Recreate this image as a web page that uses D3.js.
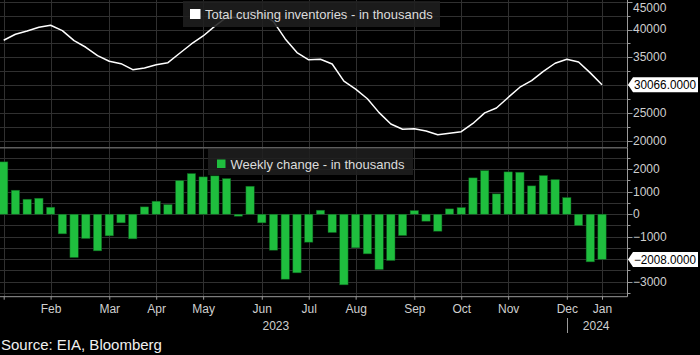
<!DOCTYPE html>
<html>
<head>
<meta charset="utf-8">
<script src="https://cdn.jsdelivr.net/npm/d3@7"></script>
<style>
  html, body { margin: 0; padding: 0; background: #000; }
  svg { display: block; font-family: "Liberation Sans", Arial, sans-serif; }
</style>
</head>
<body>
<svg id="chart" width="700" height="355"></svg>
<script>
// ---- Data (weekly, Jan 2023 – Jan 2024) ----
const inventory = [38062, 39141, 39735, 40400, 40760, 39789, 37990, 36803, 35291, 34284,
  33852, 32773, 33079, 33672, 34032, 35723, 37396, 38835, 40600, 42200,
  42100, 43200, 42850, 41410, 38300, 35850, 34550, 34650, 33800, 30720,
  29280, 27550, 25050, 23000, 22060, 22160, 21760, 21080, 21330, 21620,
  23100, 25000, 25880, 27780, 29620, 30800, 32480, 33930, 34650, 34150,
  32200, 30066];
const weeklyChange = [2326, 1067, 667, 711, 311, -874, -1926, -1081, -1630, -963,
  -385, -1096, 326, 578, 430, 1496, 1807, 1659, 1704, 1585,
  -89, 1244, -385, -1600, -2889, -2607, -1244, 178, -815, -3141,
  -1496, -1763, -2459, -2059, -948, 163, -311, -756, 237, 296,
  1615, 1941, 904, 1881, 1867, 1259, 1719, 1541, 741, -504,
  -2119, -2008];
const monthTickIndex = [0, 4, 9, 13, 17, 22, 26, 30, 35, 39, 43, 48, 51];
const monthLabels = ["", "Feb", "Mar", "Apr", "May", "Jun", "Jul", "Aug", "Sep", "Oct", "Nov", "Dec", "Jan"];
const yearLabels = ["2023", "2024"];
const yearLabelIndex = [23.2, 50.5];
const topTickLabels = [20000, 25000, 35000, 40000, 45000];
const bottomTickLabels = [-3000, -1000, 0, 1000, 2000];
const seriesNames = ["Total cushing inventories - in thousands", "Weekly change - in thousands"];
const sourceText = "Source: EIA, Bloomberg";

// ---- Layout ----
const svg = d3.select("#chart");
const W = 700, H = 355;
const plotL = 0, plotR = 627;
const topY0 = 0, topY1 = 147.7, botY0 = 147.7, botY1 = 296.7;
const green = "#1fbe3e";
const gridCol = "#303030";
const tickCol = "#cfcfcf";

svg.append("rect").attr("width", W).attr("height", H).attr("fill", "#000");

const x = d3.scaleLinear().domain([-0.315, 53.13]).range([plotL, plotR]);
const yTop = d3.scaleLinear().domain([18741, 45306]).range([topY1, topY0]);
const yBot = d3.scaleLinear().domain([-3667, 2956]).range([botY1, botY0]);

const defs = svg.append("defs");
defs.append("clipPath").attr("id", "clipTop").append("rect")
  .attr("x", plotL).attr("y", topY0).attr("width", plotR - plotL).attr("height", topY1 - topY0);
defs.append("clipPath").attr("id", "clipBot").append("rect")
  .attr("x", plotL).attr("y", botY0).attr("width", plotR - plotL).attr("height", botY1 - botY0);

// ---- Gridlines ----
const grid = svg.append("g");
const topGrid = d3.range(20000, 45001, 2500);
const botGrid = d3.range(-3500, 2501, 500);
grid.selectAll(".ht").data(topGrid).join("line")
  .attr("x1", plotL).attr("x2", plotR)
  .attr("y1", d => Math.round(yTop(d)) + 0.5).attr("y2", d => Math.round(yTop(d)) + 0.5)
  .attr("stroke", gridCol).attr("stroke-width", 1);
grid.selectAll(".hb").data(botGrid).join("line")
  .attr("x1", plotL).attr("x2", plotR)
  .attr("y1", d => Math.round(yBot(d)) + 0.5).attr("y2", d => Math.round(yBot(d)) + 0.5)
  .attr("stroke", gridCol).attr("stroke-width", 1);
grid.selectAll(".v").data(monthTickIndex).join("line")
  .attr("x1", d => Math.round(x(d)) + 0.5).attr("x2", d => Math.round(x(d)) + 0.5)
  .attr("y1", topY0).attr("y2", botY1)
  .attr("stroke", gridCol).attr("stroke-width", 1);

// ---- Bars ----
const bw = (x(1) - x(0)) * 0.71;
svg.append("g").attr("clip-path", "url(#clipBot)")
  .selectAll("rect").data(weeklyChange).join("rect")
  .attr("x", (d, i) => x(i) - bw / 2)
  .attr("width", bw)
  .attr("y", d => yBot(Math.max(0, d)))
  .attr("height", d => Math.max(0.8, Math.abs(yBot(d) - yBot(0))))
  .attr("fill", green)
  .attr("stroke", "#0c5a1c").attr("stroke-width", 0.5);

// ---- Line ----
svg.append("g").attr("clip-path", "url(#clipTop)")
  .append("path").datum(inventory)
  .attr("d", d3.line().x((d, i) => x(i)).y(d => yTop(d)))
  .attr("fill", "none").attr("stroke", "#ffffff").attr("stroke-width", 1.5)
  .attr("stroke-linejoin", "round");

// ---- Panel separators / axis lines ----
svg.append("line").attr("x1", plotL).attr("x2", plotR).attr("y1", topY1).attr("y2", topY1)
  .attr("stroke", "#5e5e5e").attr("stroke-width", 1.5);
svg.append("line").attr("x1", plotL).attr("x2", plotR + 0.5).attr("y1", botY1).attr("y2", botY1)
  .attr("stroke", "#9a9a9a").attr("stroke-width", 1);

// ---- Right axes ----
function rightAxis(scale, labels, minorStep, y0, y1, minY) {
  const g = svg.append("g").attr("transform", `translate(${plotR + 0.5},0)`);
  g.append("line").attr("x1", 0).attr("x2", 0).attr("y1", y0).attr("y2", y1)
    .attr("stroke", "#9a9a9a").attr("stroke-width", 1);
  const dom = scale.domain();
  const minors = d3.range(Math.ceil(dom[0] / minorStep) * minorStep, dom[1] + 1, minorStep);
  g.selectAll(".mt").data(minors).join("line")
    .attr("x1", 0).attr("x2", d => labels.includes(d) ? 5 : 3)
    .attr("y1", d => Math.round(scale(d)) + 0.5).attr("y2", d => Math.round(scale(d)) + 0.5)
    .attr("stroke", "#9a9a9a");
  const ax = d3.axisRight(scale).tickValues(labels).tickSize(0).tickPadding(6).tickFormat(d3.format("d"));
  const ag = svg.append("g").attr("transform", `translate(${plotR},0)`).call(ax);
  ag.select(".domain").remove();
  ag.selectAll("text")
    .attr("fill", tickCol).attr("font-size", "12px")
    .attr("font-family", "Liberation Sans, Arial, sans-serif");
  ag.selectAll(".tick").attr("transform", d => `translate(0,${Math.max(minY, scale(d))})`);
}
rightAxis(yTop, topTickLabels, 2500, topY0, topY1, 8);
rightAxis(yBot, bottomTickLabels, 500, botY0, botY1, 0);

// ---- Value tags ----
function valueTag(yPos, label) {
  const g = svg.append("g");
  const h = 15, left = plotR + 1, arrow = 5, right = 698;
  g.append("path")
    .attr("d", `M${left},${yPos} L${left + arrow},${yPos - h / 2} L${right},${yPos - h / 2} L${right},${yPos + h / 2} L${left + arrow},${yPos + h / 2} Z`)
    .attr("fill", "#ffffff");
  g.append("text").attr("x", left + arrow + 1).attr("y", yPos + 4.3)
    .attr("font-size", "12px").attr("fill", "#000")
    .attr("textLength", right - left - arrow - 3).attr("lengthAdjust", "spacingAndGlyphs")
    .text(label);
}
valueTag(yTop(inventory[inventory.length - 1]), d3.format(".4f")(inventory[inventory.length - 1]));
valueTag(yBot(weeklyChange[weeklyChange.length - 1]), d3.format(".4f")(weeklyChange[weeklyChange.length - 1]));

// ---- Bottom time axis ----
const xAxis = d3.axisBottom(x).tickValues(monthTickIndex).tickSize(3).tickPadding(5)
  .tickFormat((d, i) => monthLabels[i]);
const xg = svg.append("g").attr("transform", `translate(0,${botY1})`).call(xAxis);
xg.select(".domain").remove();
xg.selectAll("line").attr("stroke", "#9a9a9a");
xg.selectAll("text").attr("fill", tickCol).attr("font-size", "12px")
  .attr("font-family", "Liberation Sans, Arial, sans-serif");

svg.selectAll(".yr").data(yearLabels).join("text")
  .attr("x", (d, i) => x(yearLabelIndex[i])).attr("y", 330)
  .attr("text-anchor", "middle").attr("font-size", "12px").attr("fill", tickCol).text(d => d);
svg.append("line")
  .attr("x1", Math.round(x(48)) + 0.5).attr("x2", Math.round(x(48)) + 0.5)
  .attr("y1", 318).attr("y2", 333).attr("stroke", "#9a9a9a");

// ---- Legends ----
const lg1 = svg.append("g");
lg1.append("rect").attr("x", 183).attr("y", 1).attr("width", 257).attr("height", 26)
  .attr("fill", "#1f1f1f").attr("opacity", 0.88);
lg1.append("rect").attr("x", 190).attr("y", 9).attr("width", 10.5).attr("height", 10).attr("fill", "#fff");
lg1.append("text").attr("x", 205).attr("y", 19).attr("font-size", "13px").attr("fill", "#dcdcdc")
  .text(seriesNames[0]);

const lg2 = svg.append("g");
lg2.append("rect").attr("x", 208).attr("y", 149).attr("width", 205).attr("height", 26)
  .attr("fill", "#1f1f1f").attr("opacity", 0.88);
lg2.append("rect").attr("x", 217).attr("y", 159.5).attr("width", 8.5).attr("height", 8.5).attr("fill", green);
lg2.append("text").attr("x", 230.5).attr("y", 169).attr("font-size", "13px").attr("fill", "#dcdcdc")
  .text(seriesNames[1]);

// ---- Source ----
svg.append("text").attr("x", 1).attr("y", 350).attr("font-size", "15px").attr("fill", "#f0f0f0")
  .text(sourceText);
</script>
</body>
</html>
